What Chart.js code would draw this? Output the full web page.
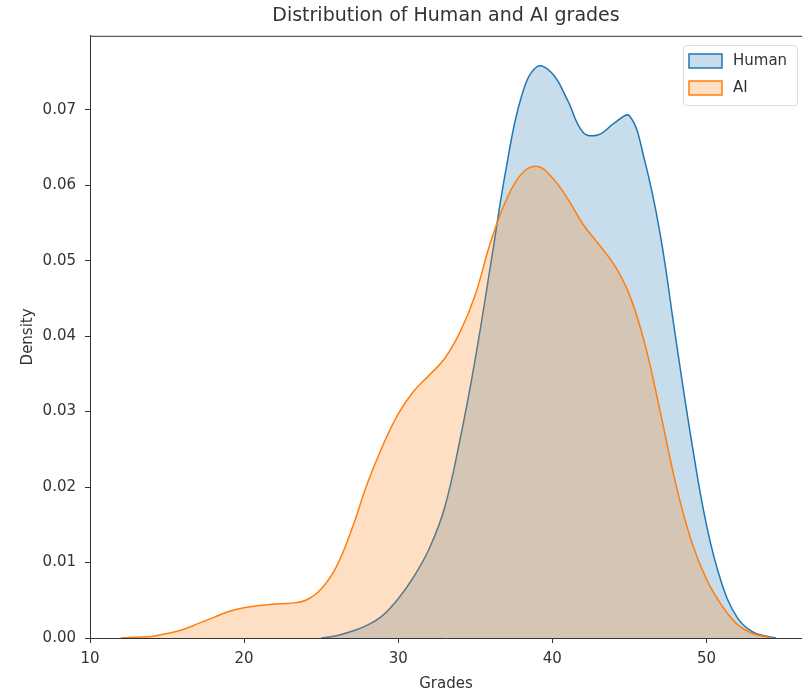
<!DOCTYPE html>
<html>
<head>
<meta charset="utf-8">
<script src="https://cdn.jsdelivr.net/npm/chart.js@4.4.1/dist/chart.umd.min.js"></script>
<style>
  html, body { margin: 0; padding: 0; background: #fff; }
  #wrap { width: 802px; height: 693px; }
</style>
</head>
<body>
<div id="wrap"><canvas id="kdeChart" width="802" height="693"></canvas></div>
<script>
// values
const humanGrades  = [25, 26, 27, 28, 29, 30, 31, 32, 33, 34, 35, 36, 37, 38, 39, 40, 41, 42, 43, 44, 45, 46, 47, 48, 49, 50, 51, 52, 53, 54, 54.5];
const humanDensity = [0, 0.0003, 0.0009, 0.0017, 0.0030, 0.0052, 0.0081, 0.0118, 0.0172, 0.0262, 0.0370, 0.0495, 0.0622, 0.0718, 0.0757, 0.0748, 0.0712, 0.0670, 0.0667, 0.0682, 0.0692, 0.0632, 0.0535, 0.0398, 0.0265, 0.0150, 0.0072, 0.0027, 0.0008, 0.0002, 0];

const aiGrades  = [12, 13, 14, 15, 16, 17, 18, 19, 20, 21, 22, 23, 24, 25, 26, 27, 28, 29, 30, 31, 32, 33, 34, 35, 36, 37, 38, 39, 40, 41, 42, 43, 44, 45, 46, 47, 48, 49, 50, 51, 52, 53, 54, 54.3];
const aiDensity = [0, 0.0001, 0.0002, 0.0006, 0.0011, 0.0019, 0.0027, 0.0035, 0.0040, 0.0043, 0.0045, 0.0046, 0.0050, 0.0065, 0.0095, 0.0145, 0.0205, 0.0255, 0.0297, 0.0327, 0.0348, 0.0370, 0.0405, 0.0455, 0.0525, 0.0580, 0.0615, 0.0625, 0.0610, 0.0582, 0.0548, 0.0522, 0.0495, 0.0455, 0.0390, 0.0300, 0.0205, 0.0130, 0.0078, 0.0043, 0.0018, 0.0006, 0.0001, 0];

const xTicks = [10, 20, 30, 40, 50];
const yTicks = [0, 0.01, 0.02, 0.03, 0.04, 0.05, 0.06, 0.07];

const FONT = "'DejaVu Sans', sans-serif";
const TEXT = '#333';

function toPoints(xs, ys) {
    return xs.map((x, i) => ({ x: x, y: ys[i] }));
}

// matplotlib style legend box in the upper right corner
const boxLegend = {
    id: 'boxLegend',
    afterDraw(chart) {
        const ctx = chart.ctx;
        const items = chart.data.datasets;
        ctx.save();
        ctx.fillStyle = 'rgba(255,255,255,0.8)';
        ctx.strokeStyle = '#dcdcdc';
        ctx.lineWidth = 1;
        ctx.beginPath();
        ctx.roundRect(683.5, 45.5, 114, 60, 3);
        ctx.fill();
        ctx.stroke();
        items.forEach((ds, i) => {
            const y = 54 + i * 27;
            ctx.fillStyle = ds.backgroundColor;
            ctx.strokeStyle = ds.borderColor;
            ctx.lineWidth = 1.5;
            ctx.fillRect(689, y, 33, 14);
            ctx.strokeRect(689, y, 33, 14);
            ctx.fillStyle = TEXT;
            ctx.font = '15px ' + FONT;
            ctx.textBaseline = 'middle';
            ctx.fillText(ds.label, 733, y + 7);
        });
        ctx.restore();
    }
};

const ctx = document.getElementById('kdeChart').getContext('2d');
new Chart(ctx, {
    type: 'line',
    data: {
        datasets: [{
            label: 'Human',
            data: toPoints(humanGrades, humanDensity),
            borderColor: '#1f77b4',
            backgroundColor: 'rgba(31,119,180,0.25)',
            borderWidth: 1.5,
            fill: 'origin',
            order: 2
        }, {
            label: 'AI',
            data: toPoints(aiGrades, aiDensity),
            borderColor: '#ff7f0e',
            backgroundColor: 'rgba(255,127,14,0.25)',
            borderWidth: 1.5,
            fill: 'origin',
            order: 1
        }]
    },
    options: {
        responsive: false,
        animation: false,
        layout: { padding: { left: 0, right: 0, top: 0, bottom: 0 } },
        elements: {
            point: { radius: 0 },
            line: { tension: 0.4 }
        },
        plugins: {
            legend: { display: false },
            tooltip: { enabled: false },
            title: {
                display: true,
                text: 'Distribution of Human and AI grades',
                fullSize: false,
                color: TEXT,
                font: { family: FONT, size: 19, weight: 'normal', lineHeight: 1.2 },
                padding: { top: 5, bottom: 8 }
            }
        },
        scales: {
            x: {
                type: 'linear',
                min: 10,
                max: 56.2,
                afterBuildTicks: s => { s.ticks = xTicks.map(v => ({ value: v })); },
                afterFit: s => { s.height = 55; },
                grid: { display: true, drawOnChartArea: false, tickLength: 5, tickColor: TEXT },
                border: { color: TEXT, width: 1 },
                ticks: { color: TEXT, font: { family: FONT, size: 15 }, padding: 7, maxRotation: 0 },
                title: { display: true, text: 'Grades', color: TEXT, font: { family: FONT, size: 15 }, padding: { top: 0, bottom: 0 } }
            },
            y: {
                min: 0,
                max: 0.0798,
                afterBuildTicks: s => { s.ticks = yTicks.map(v => ({ value: v })); },
                afterFit: s => { s.width = 90; },
                grid: { display: true, drawOnChartArea: false, tickLength: 5, tickColor: TEXT },
                border: { color: TEXT, width: 1 },
                ticks: { color: TEXT, font: { family: FONT, size: 15 }, padding: 9, callback: v => v.toFixed(2) },
                title: { display: true, text: 'Density', color: TEXT, font: { family: FONT, size: 15 }, padding: { top: 19, bottom: 0 } }
            }
        }
    },
    plugins: [boxLegend, {
        id: 'topSpine',
        afterDraw(chart) {
            const a = chart.chartArea;
            const c = chart.ctx;
            c.save();
            c.strokeStyle = TEXT;
            c.lineWidth = 1;
            c.beginPath();
            c.moveTo(a.left, a.top + 0.5);
            c.lineTo(a.right, a.top + 0.5);
            c.stroke();
            c.restore();
        }
    }]
});
</script>
</body>
</html>
